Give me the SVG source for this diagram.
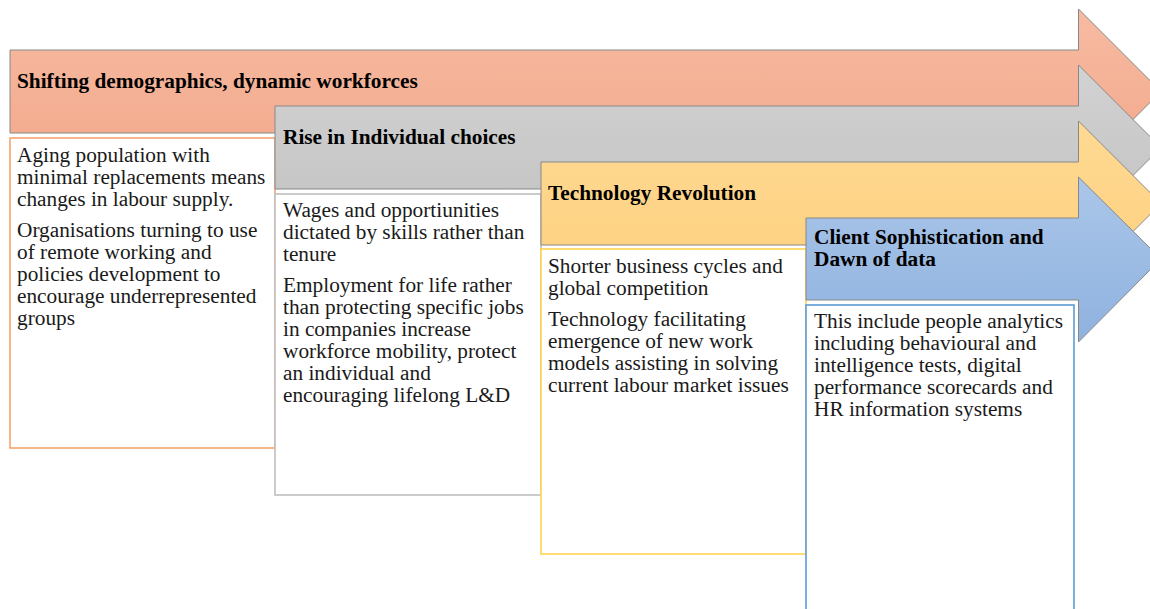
<svg xmlns="http://www.w3.org/2000/svg" width="1150" height="609" viewBox="0 0 1150 609">
  <defs>
    <linearGradient id="gOrange" x1="0" y1="0" x2="0" y2="1">
      <stop offset="0" stop-color="#F7BBA2"/>
      <stop offset="1" stop-color="#F2A78A"/>
    </linearGradient>
    <linearGradient id="gGray" x1="0" y1="0" x2="0" y2="1">
      <stop offset="0" stop-color="#D2D2D2"/>
      <stop offset="1" stop-color="#C2C2C2"/>
    </linearGradient>
    <linearGradient id="gYellow" x1="0" y1="0" x2="0" y2="1">
      <stop offset="0" stop-color="#FFDA93"/>
      <stop offset="1" stop-color="#FDCF7E"/>
    </linearGradient>
    <linearGradient id="gBlue" x1="0" y1="0" x2="0" y2="1">
      <stop offset="0" stop-color="#ABC6E9"/>
      <stop offset="1" stop-color="#8EB2DF"/>
    </linearGradient>
    <style>
      .arrow { stroke: #888888; stroke-width: 1; stroke-linejoin: miter; }
      .box { fill: #FFFFFF; stroke-width: 1.6; }
      .title { font-family: "Liberation Serif", "Times New Roman", serif; font-weight: bold; font-size: 21.3px; fill: #000000; }
      .body { font-family: "Liberation Serif", "Times New Roman", serif; font-size: 21.3px; fill: #1A1A1A; }
    </style>
  </defs>

  <!-- Stage 1 -->
  <g id="arrow-demographics">
    <polygon class="arrow" fill="url(#gOrange)" points="10,50 1078.5,50 1078.5,9 1161,91.5 1078.5,174 1078.5,133 10,133"/>
    <text class="title" x="17" y="88">Shifting demographics, dynamic workforces</text>
  </g>
  <g id="box-demographics">
    <rect class="box" x="10" y="138" width="265" height="310" stroke="#F4A46F"/>
    <text class="body" x="17" y="162">Aging population with</text>
    <text class="body" x="17" y="184">minimal replacements means</text>
    <text class="body" x="17" y="206">changes in labour supply.</text>
    <text class="body" x="17" y="237">Organisations turning to use</text>
    <text class="body" x="17" y="259">of remote working and</text>
    <text class="body" x="17" y="281">policies development to</text>
    <text class="body" x="17" y="303">encourage underrepresented</text>
    <text class="body" x="17" y="325">groups</text>
  </g>

  <!-- Stage 2 -->
  <g id="arrow-choices">
    <polygon class="arrow" fill="url(#gGray)" points="275,106 1078.5,106 1078.5,65 1161,147.5 1078.5,230 1078.5,189 275,189"/>
    <text class="title" x="283" y="144">Rise in Individual choices</text>
  </g>
  <g id="box-choices">
    <rect class="box" x="275" y="194" width="266" height="301" stroke="#BFBFBF"/>
    <text class="body" x="283" y="217">Wages and opportiunities</text>
    <text class="body" x="283" y="239">dictated by skills rather than</text>
    <text class="body" x="283" y="261">tenure</text>
    <text class="body" x="283" y="292">Employment for life rather</text>
    <text class="body" x="283" y="314">than protecting specific jobs</text>
    <text class="body" x="283" y="336">in companies increase</text>
    <text class="body" x="283" y="358">workforce mobility, protect</text>
    <text class="body" x="283" y="380">an individual and</text>
    <text class="body" x="283" y="402">encouraging lifelong L&amp;D</text>
  </g>

  <!-- Stage 3 -->
  <g id="arrow-technology">
    <polygon class="arrow" fill="url(#gYellow)" points="541,162 1078.5,162 1078.5,121 1161,203.5 1078.5,286 1078.5,245 541,245"/>
    <text class="title" x="548" y="200">Technology Revolution</text>
  </g>
  <g id="box-technology">
    <rect class="box" x="541" y="249" width="265" height="305" stroke="#FFD34F"/>
    <text class="body" x="548" y="273">Shorter business cycles and</text>
    <text class="body" x="548" y="295">global competition</text>
    <text class="body" x="548" y="326">Technology facilitating</text>
    <text class="body" x="548" y="348">emergence of new work</text>
    <text class="body" x="548" y="370">models assisting in solving</text>
    <text class="body" x="548" y="392">current labour market issues</text>
  </g>

  <!-- Stage 4 -->
  <g id="arrow-data">
    <polygon class="arrow" fill="url(#gBlue)" points="806,218 1078.5,218 1078.5,177 1161,259 1078.5,342 1078.5,300 806,300"/>
    <text class="title" x="814" y="244">Client Sophistication and</text>
    <text class="title" x="814" y="266">Dawn of data</text>
  </g>
  <g id="box-data">
    <rect class="box" x="806" y="305" width="268" height="320" stroke="#5B9BD5"/>
    <text class="body" x="814" y="328">This include people analytics</text>
    <text class="body" x="814" y="350">including behavioural and</text>
    <text class="body" x="814" y="372">intelligence tests, digital</text>
    <text class="body" x="814" y="394">performance scorecards and</text>
    <text class="body" x="814" y="416">HR information systems</text>
  </g>

  <g id="connectors"/>
</svg>
